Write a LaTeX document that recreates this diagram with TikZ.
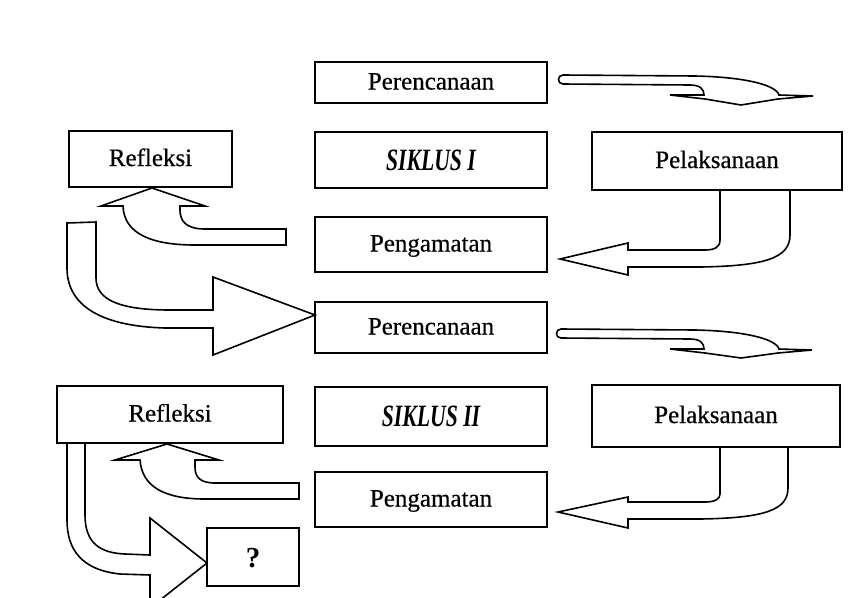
\documentclass[tikz,border=0pt]{standalone}
\usepackage{fontspec}
\setmainfont{Liberation Serif}
\newfontfamily\heavyserif[FakeBold=0.5]{Liberation Serif}
\begin{document}
\begin{tikzpicture}[x=1pt,y=-1pt,
  box/.style={draw,line width=1.8pt,inner sep=0pt,text height=18pt,text depth=4pt,
    font=\heavyserif\fontsize{25}{29}\selectfont},
  siklus/.style={box,text height=22pt,text depth=2pt,font=\rmfamily\fontsize{31}{35}\selectfont\bfseries\itshape},
  blk/.style={draw,line width=1.6pt,line join=miter,fill=white}]
\useasboundingbox (0,0) rectangle (866,597);
\clip (0,0) rectangle (866,597);
\fill[white] (0,0) rectangle (866,597);

% ---------- block arrows ----------
% Perencanaan I -> Pelaksanaan I
\draw[blk] (563,75) -- (695,76) .. controls (745,77) and (776,85) .. (779,95) -- (813,96)
  -- (778,99) -- (741,105) -- (705,99) -- (670,95) -- (704,95)
  .. controls (704,89) and (700,85) .. (690,85) -- (563,84)
  .. controls (557,84) and (557,75) .. (563,75) -- cycle;
% Perencanaan II -> Pelaksanaan II
\draw[blk] (561,329) -- (695,330) .. controls (745,331) and (776,339) .. (779,349) -- (812,350)
  -- (778,353) -- (741,358) -- (705,353) -- (670,349) -- (704,349)
  .. controls (704,343) and (700,339) .. (690,339) -- (561,338)
  .. controls (555,338) and (555,329) .. (561,329) -- cycle;
% Pelaksanaan I -> Pengamatan I
\draw[blk] (720,190) -- (720,240) .. controls (720,247) and (715,250) .. (705,250) -- (628,250)
  -- (628,243) -- (560,259) -- (628,275) -- (628,267) -- (700,267)
  .. controls (765,266) and (790,258) .. (790,235) -- (790,190);
% Pelaksanaan II -> Pengamatan II
\draw[blk] (720,447) -- (720,494) .. controls (720,499) and (715,502) .. (705,502) -- (628,502)
  -- (628,497) -- (558,512) -- (628,528) -- (628,519) -- (700,519)
  .. controls (765,518) and (788,510) .. (788,488) -- (788,447);
% Pengamatan I -> Refleksi I
\draw[blk] (286,229) -- (205,229) .. controls (186,229) and (180,221) .. (180,210) -- (180,206)
  -- (205,206) -- (152,188) -- (101,206) -- (123,206)
  .. controls (124,233) and (150,245) .. (195,245) -- (286,245) -- cycle;
% Pengamatan II -> Refleksi II
\draw[blk] (299,483) -- (215,483) .. controls (200,483) and (195,477) .. (195,467) -- (195,460)
  -- (219,460) -- (167,444) -- (115,460) -- (140,460)
  .. controls (142,487) and (165,499) .. (205,499) -- (299,499) -- cycle;
% Refleksi I -> Perencanaan II
\draw[blk] (67,223) -- (96,222) -- (96,278) .. controls (96,300) and (120,310) .. (170,310)
  -- (213,310) -- (213,277) -- (315,315) -- (213,355) -- (213,328) -- (165,328)
  .. controls (95,326) and (67,302) .. (67,268) -- cycle;
% Refleksi II -> ?
\draw[blk] (67,443) -- (85,443) -- (85,515) .. controls (85,543) and (100,553) .. (125,554)
  -- (150,555) -- (150,518) -- (207,563) -- (150,608) -- (150,575) -- (120,574)
  .. controls (82,570) and (67,550) .. (67,520) -- cycle;

% ---------- boxes ----------
\node[box,minimum width=232pt,minimum height=41pt] (p1) at (431,82.5) {Perencanaan};
\node[box,minimum width=163pt,minimum height=56pt] (r1) at (150.5,159) {Refleksi};
\node[siklus,minimum width=232pt,minimum height=56pt] (s1) at (431,160) {\scalebox{0.7}[1]{SIKLUS I}};
\node[box,minimum width=250pt,minimum height=58pt] (l1) at (717,161) {Pelaksanaan};
\node[box,minimum width=232pt,minimum height=55pt] (g1) at (431,244.5) {Pengamatan};
\node[box,minimum width=232pt,minimum height=51pt] (p2) at (431,327.5) {Perencanaan};
\node[box,minimum width=226pt,minimum height=57pt] (r2) at (170,414.5) {Refleksi};
\node[siklus,minimum width=232pt,minimum height=59pt] (s2) at (431,416.5) {\scalebox{0.7}[1]{SIKLUS II}};
\node[box,minimum width=248pt,minimum height=62pt] (l2) at (716,416) {Pelaksanaan};
\node[box,minimum width=232pt,minimum height=55pt] (g2) at (431,499.5) {Pengamatan};
\node[box,minimum width=92pt,minimum height=58pt,text height=21pt,text depth=1pt,font=\rmfamily\fontsize{29}{33}\selectfont\bfseries] (q) at (253,557) {?};
\end{tikzpicture}
\end{document}
